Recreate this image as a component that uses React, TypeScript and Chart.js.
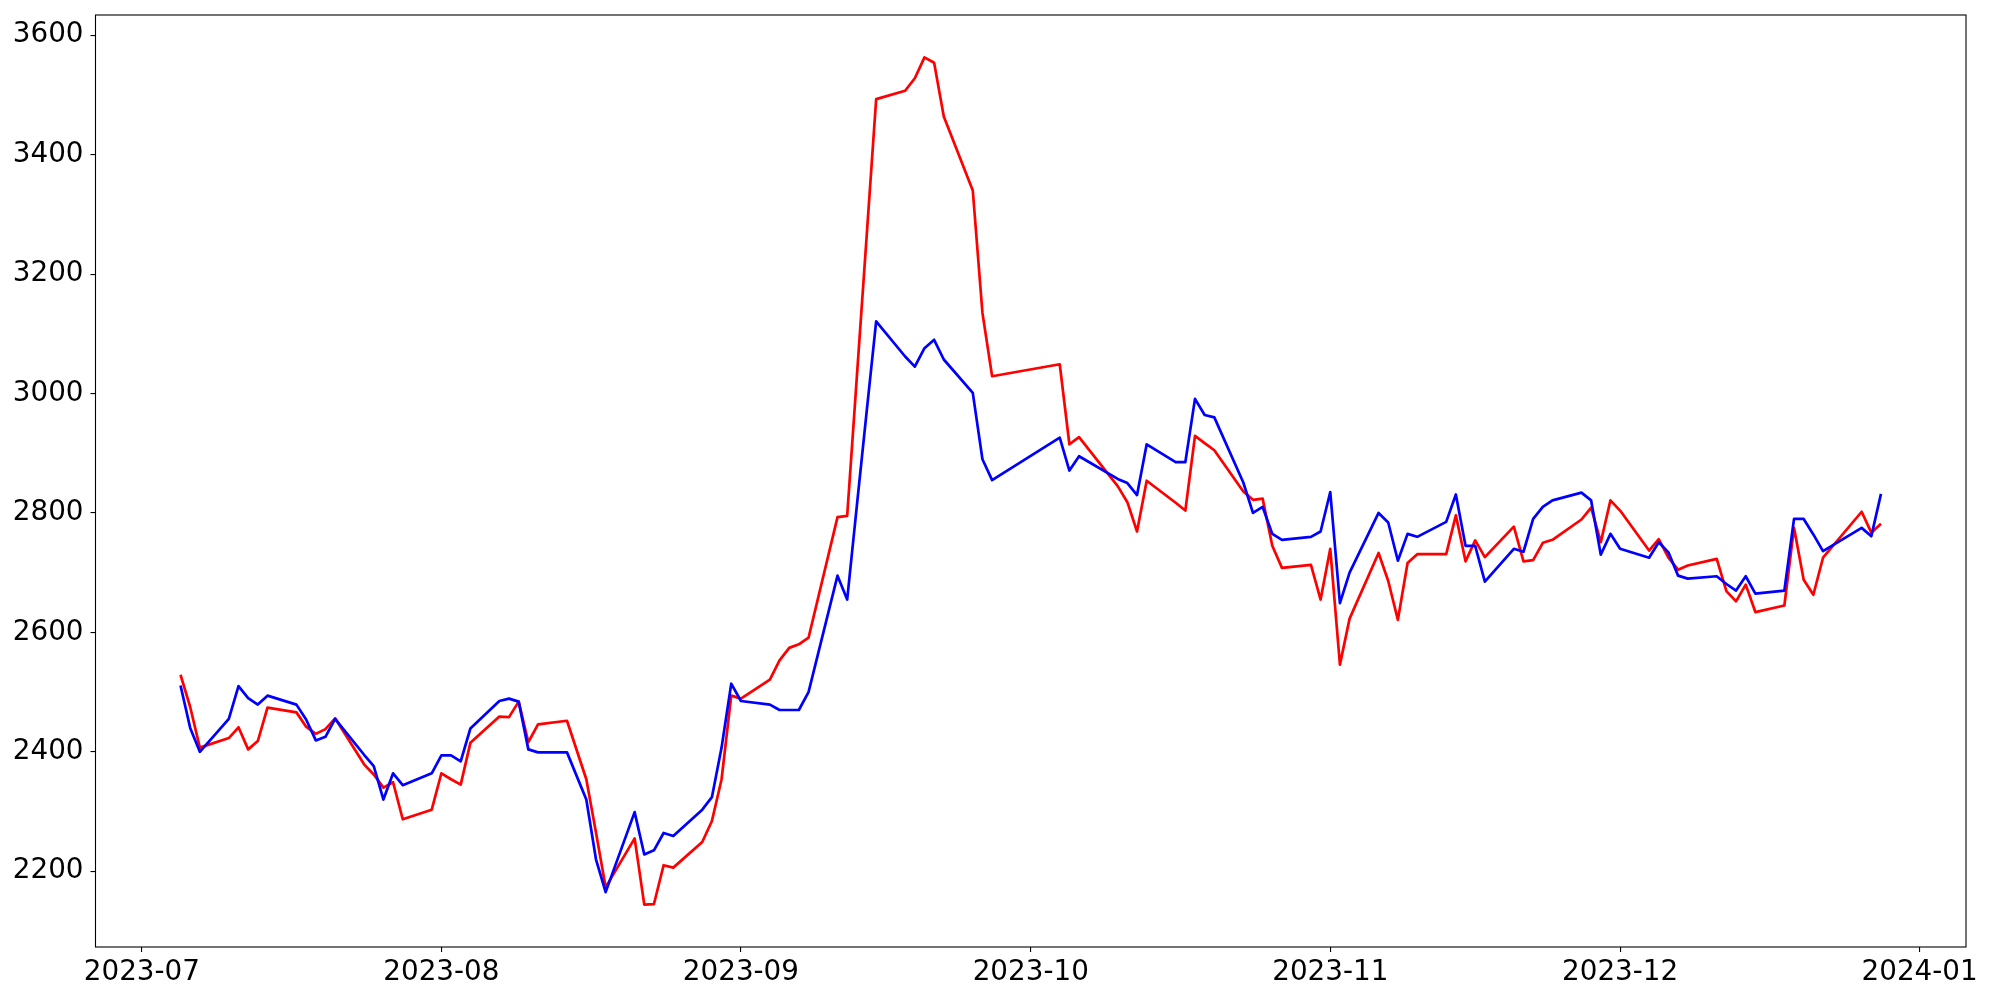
import React, { useEffect, useRef } from "react";
import { Chart, registerables } from "chart.js";

Chart.register(...registerables);

// Trading days (Korean exchange calendar), 2023-07-05 .. 2023-12-28
const dates: string[] = [
  "2023-07-05", "2023-07-06", "2023-07-07", "2023-07-10", "2023-07-11", "2023-07-12", "2023-07-13", "2023-07-14",
  "2023-07-17", "2023-07-18", "2023-07-19", "2023-07-20", "2023-07-21", "2023-07-24", "2023-07-25", "2023-07-26",
  "2023-07-27", "2023-07-28", "2023-07-31", "2023-08-01", "2023-08-02", "2023-08-03", "2023-08-04", "2023-08-07",
  "2023-08-08", "2023-08-09", "2023-08-10", "2023-08-11", "2023-08-14", "2023-08-16", "2023-08-17", "2023-08-18",
  "2023-08-21", "2023-08-22", "2023-08-23", "2023-08-24", "2023-08-25", "2023-08-28", "2023-08-29", "2023-08-30",
  "2023-08-31", "2023-09-01", "2023-09-04", "2023-09-05", "2023-09-06", "2023-09-07", "2023-09-08", "2023-09-11",
  "2023-09-12", "2023-09-13", "2023-09-14", "2023-09-15", "2023-09-18", "2023-09-19", "2023-09-20", "2023-09-21",
  "2023-09-22", "2023-09-25", "2023-09-26", "2023-09-27", "2023-10-04", "2023-10-05", "2023-10-06", "2023-10-10",
  "2023-10-11", "2023-10-12", "2023-10-13", "2023-10-16", "2023-10-17", "2023-10-18", "2023-10-19", "2023-10-20",
  "2023-10-23", "2023-10-24", "2023-10-25", "2023-10-26", "2023-10-27", "2023-10-30", "2023-10-31", "2023-11-01",
  "2023-11-02", "2023-11-03", "2023-11-06", "2023-11-07", "2023-11-08", "2023-11-09", "2023-11-10", "2023-11-13",
  "2023-11-14", "2023-11-15", "2023-11-16", "2023-11-17", "2023-11-20", "2023-11-21", "2023-11-22", "2023-11-23",
  "2023-11-24", "2023-11-27", "2023-11-28", "2023-11-29", "2023-11-30", "2023-12-01", "2023-12-04", "2023-12-05",
  "2023-12-06", "2023-12-07", "2023-12-08", "2023-12-11", "2023-12-12", "2023-12-13", "2023-12-14", "2023-12-15",
  "2023-12-18", "2023-12-19", "2023-12-20", "2023-12-21", "2023-12-22", "2023-12-26", "2023-12-27", "2023-12-28",
];

const redValues: number[] = [
  2529, 2475, 2407, 2423, 2441, 2404, 2418, 2474,
  2466, 2442, 2430, 2438, 2456, 2379, 2362, 2340,
  2349, 2287, 2303, 2364, 2354, 2345, 2415, 2459,
  2458, 2484, 2416, 2446, 2452, 2354, 2265, 2173,
  2255, 2144, 2145, 2210, 2206, 2249, 2284, 2354,
  2494, 2489, 2521, 2553, 2574, 2580, 2591, 2793,
  2795, 3028, 3260, 3493, 3507, 3528, 3563, 3554,
  3464, 3340, 3135, 3029, 3049, 2915, 2927, 2845,
  2818, 2769, 2854, 2817, 2804, 2929, 2917, 2905,
  2836, 2822, 2824, 2745, 2708, 2713, 2655, 2740,
  2546, 2623, 2733, 2686, 2621, 2716, 2731, 2731,
  2796, 2719, 2754, 2726, 2777, 2719, 2721, 2750,
  2755, 2789, 2809, 2751, 2821, 2804, 2737, 2756,
  2725, 2705, 2712, 2723, 2669, 2652, 2680, 2634,
  2645, 2775, 2688, 2663, 2725, 2802, 2767, 2782,
];

const blueValues: number[] = [
  2511, 2440, 2400, 2455, 2510, 2490, 2479, 2494,
  2479, 2454, 2419, 2425, 2455, 2395, 2376, 2320,
  2364, 2344, 2364, 2394, 2394, 2384, 2439, 2485,
  2489, 2484, 2404, 2399, 2399, 2320, 2220, 2165,
  2299, 2228, 2235, 2264, 2259, 2303, 2324, 2407,
  2514, 2485, 2479, 2470, 2470, 2470, 2500, 2695,
  2655, 2812, 2967, 3121, 3062, 3045, 3076, 3090,
  3057, 3001, 2890, 2855, 2926, 2871, 2895, 2857,
  2850, 2830, 2915, 2885, 2885, 2991, 2964, 2960,
  2851, 2800, 2810, 2765, 2755, 2760, 2769, 2835,
  2649, 2700, 2800, 2784, 2720, 2765, 2760, 2785,
  2831, 2745, 2745, 2685, 2740, 2735, 2790, 2810,
  2821, 2834, 2821, 2730, 2765, 2740, 2725, 2751,
  2734, 2695, 2690, 2694, 2681, 2670, 2694, 2665,
  2670, 2790, 2790, 2764, 2736, 2775, 2761, 2832,
];

const yTickValues: number[] = [2200, 2400, 2600, 2800, 3000, 3200, 3400, 3600];
const xTickLabels: string[] = ["2023-07", "2023-08", "2023-09", "2023-10", "2023-11", "2023-12", "2024-01"];

function toMs(s: string): number {
  const p = s.split("-").map(Number);
  return Date.UTC(p[0], p[1] - 1, p[2] || 1);
}

function fmtMonth(v: number): string {
  const d = new Date(v);
  const m = d.getUTCMonth() + 1;
  return d.getUTCFullYear() + "-" + (m < 10 ? "0" + m : "" + m);
}

const boxPlugin = {
  id: "boxFrame",
  afterDatasetsDraw(chart: any) {
    const { ctx, chartArea } = chart;
    ctx.save();
    ctx.strokeStyle = "#000000";
    ctx.lineWidth = 1.1;
    ctx.strokeRect(chartArea.left, chartArea.top, chartArea.right - chartArea.left, chartArea.bottom - chartArea.top);
    ctx.restore();
  },
};

export default function App() {
  const canvasRef = useRef<HTMLCanvasElement | null>(null);

  useEffect(() => {
    document.body.style.margin = "0";
    const canvas = canvasRef.current;
    if (!canvas) return;

    const xs = dates.map(toMs);
    const xMinData = Math.min(...xs);
    const xMaxData = Math.max(...xs);
    const xSpan = xMaxData - xMinData;
    const allY = redValues.concat(blueValues);
    const yMinData = Math.min(...allY);
    const yMaxData = Math.max(...allY);
    const ySpan = yMaxData - yMinData;

    const redData = dates.map((d, i) => ({ x: xs[i], y: redValues[i] }));
    const blueData = dates.map((d, i) => ({ x: xs[i], y: blueValues[i] }));

    const font = { family: "DejaVu Sans", size: 27.8 };

    const chart = new Chart(canvas, {
      type: "line",
      data: {
        datasets: [
          {
            data: redData,
            borderColor: "#ff0000",
            backgroundColor: "#ff0000",
            borderWidth: 2.7,
            pointRadius: 0,
            tension: 0,
            borderJoinStyle: "round",
            order: 1,
          },
          {
            data: blueData,
            borderColor: "#0000ff",
            backgroundColor: "#0000ff",
            borderWidth: 2.7,
            pointRadius: 0,
            tension: 0,
            borderJoinStyle: "round",
            order: 0,
          },
        ],
      },
      options: {
        animation: false,
        responsive: false,
        devicePixelRatio: 1,
        layout: { padding: { left: 0, top: 15, right: 34, bottom: 0 } },
        plugins: {
          legend: { display: false },
          tooltip: { enabled: false },
        },
        scales: {
          x: {
            type: "linear",
            min: xMinData - 0.05 * xSpan,
            max: xMaxData + 0.05 * xSpan,
            afterBuildTicks: (scale: any) => {
              scale.ticks = xTickLabels.map((l) => ({ value: toMs(l) }));
            },
            afterFit: (scale: any) => {
              scale.height = 53;
              scale.paddingLeft = 0;
              scale.paddingRight = 0;
            },
            ticks: {
              autoSkip: false,
              maxRotation: 0,
              minRotation: 0,
              color: "#000000",
              font,
              padding: 4,
              callback: (v: any) => fmtMonth(Number(v)),
            },
            grid: {
              display: true,
              drawOnChartArea: false,
              drawTicks: true,
              tickLength: 5,
              color: "#000000",
              lineWidth: 1.1,
            },
            border: { display: false },
          },
          y: {
            type: "linear",
            min: yMinData - 0.05 * ySpan,
            max: yMaxData + 0.05 * ySpan,
            afterBuildTicks: (scale: any) => {
              scale.ticks = yTickValues.map((v) => ({ value: v }));
            },
            afterFit: (scale: any) => {
              scale.width = 95.5;
              scale.paddingTop = 0;
              scale.paddingBottom = 0;
            },
            ticks: {
              color: "#000000",
              font,
              padding: 7,
              callback: (v: any) => String(v),
            },
            grid: {
              display: true,
              drawOnChartArea: false,
              drawTicks: true,
              tickLength: 5,
              color: "#000000",
              lineWidth: 1.1,
            },
            border: { display: false },
          },
        },
      },
      plugins: [boxPlugin],
    } as any);

    return () => {
      chart.destroy();
    };
  }, []);

  return (
    <div style={{ width: 2000, height: 1000, background: "#ffffff" }}>
      <canvas ref={canvasRef} width={2000} height={1000} style={{ display: "block", width: 2000, height: 1000 }} />
    </div>
  );
}
